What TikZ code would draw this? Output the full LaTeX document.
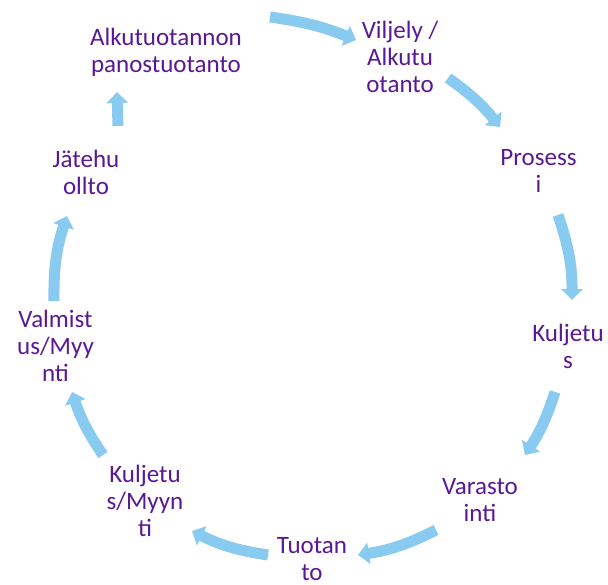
\documentclass[tikz,border=0pt]{standalone}
\usepackage{fontspec}
\setmainfont{Carlito}
\usetikzlibrary{arrows.meta}
\definecolor{txtpurple}{RGB}{90,25,148}
\definecolor{arrowblue}{RGB}{136,202,240}
\tikzset{
  lbl/.style={align=center, text=txtpurple, inner sep=0pt,
    font=\fontsize{25}{27}\selectfont},
  cyc/.style={draw=arrowblue, line width=11pt,
    -{Triangle[width=21pt,length=11pt]}}
}
\begin{document}
\begin{tikzpicture}[x=1pt,y=1pt]
\useasboundingbox (0,0) rectangle (608,585);
\fill[white] (0,0) rectangle (608,585);
% labels
\node[lbl] (n1) at (166,533) {Alkutuotannon\\panostuotanto};
\node[lbl] (n2) at (400,528) {Viljely /\\Alkutu\\otanto};
\node[lbl] (n3) at (538.5,414.5) {Prosess\\i};
\node[lbl] (n4) at (568,238.5) {Kuljetu\\s};
\node[lbl] (n5) at (480,84.5) {Varasto\\inti};
\node[lbl] (n6) at (312,25.5) {Tuotan\\to};
\node[lbl] (n7) at (145,84) {Kuljetu\\s/Myyn\\ti};
\node[lbl] (n8) at (55.5,239) {Valmist\\us/Myy\\nti};
\node[lbl] (n9) at (86,413) {Jätehu\\ollto};
% arrow ends
\coordinate (t1) at (270,568); \coordinate (h1) at (356,545);
\coordinate (t2) at (448,507); \coordinate (h2) at (500,458);
\coordinate (t3) at (558,370); \coordinate (h3) at (572,285);
\coordinate (t4) at (555,193); \coordinate (h4) at (525,130);
\coordinate (t5) at (436,55);  \coordinate (h5) at (358,30);
\coordinate (t6) at (268,30);  \coordinate (h6) at (192,54);
\coordinate (t7) at (103,130); \coordinate (h7) at (72,193);
\coordinate (t8) at (54,284);  \coordinate (h8) at (67,369);
\coordinate (t9) at (118,459); \coordinate (h9) at (117,493);
% arrows
\draw[cyc] (t1) to[bend left=7] (h1);
\draw[cyc] (t2) to[bend left=8] (h2);
\draw[cyc] (t3) to[bend left=9.5] (h3);
\draw[cyc] (t4) to[bend left=7.5] (h4);
\draw[cyc] (t5) to[bend left=9] (h5);
\draw[cyc] (t6) to[bend left=9] (h6);
\draw[cyc] (t7) to[bend left=8] (h7);
\draw[cyc] (t8) to[bend left=9.5] (h8);
\draw[cyc] (t9) -- (h9);
\end{tikzpicture}
\end{document}
